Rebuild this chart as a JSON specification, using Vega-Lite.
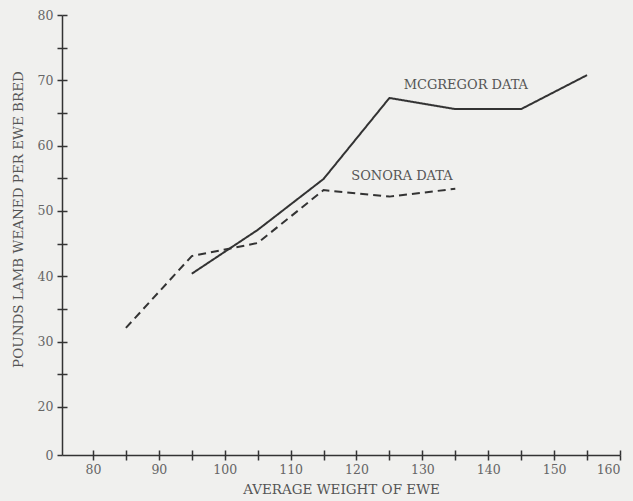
{
  "$schema": "https://vega.github.io/schema/vega-lite/v6.json",
  "width": 558,
  "height": 440,
  "autosize": "none",
  "padding": {"left": 62, "top": 15, "right": 13, "bottom": 46},
  "background": "#f0f0ee",
  "config": {
    "view": {"stroke": null},
    "font": "DejaVu Serif",
    "axis": {
      "labelFont": "DejaVu Serif",
      "titleFont": "DejaVu Serif",
      "labelColor": "#666",
      "titleColor": "#555",
      "labelFontSize": 12.5,
      "titleFontSize": 13.5,
      "titleFontWeight": "normal",
      "domainColor": "#333",
      "tickColor": "#333",
      "domainWidth": 1.5,
      "tickWidth": 1.5,
      "labelOverlap": false,
      "grid": false
    }
  },
  "datasets": {
    "lines": [
      {"series": "McGregor", "weight": 95, "pounds": 40.4},
      {"series": "McGregor", "weight": 105, "pounds": 47.1},
      {"series": "McGregor", "weight": 115, "pounds": 54.9},
      {"series": "McGregor", "weight": 125, "pounds": 67.3},
      {"series": "McGregor", "weight": 135, "pounds": 65.6},
      {"series": "McGregor", "weight": 145, "pounds": 65.6},
      {"series": "McGregor", "weight": 155, "pounds": 70.8},
      {"series": "Sonora", "weight": 85, "pounds": 32.1},
      {"series": "Sonora", "weight": 95, "pounds": 43.1},
      {"series": "Sonora", "weight": 105, "pounds": 45.1},
      {"series": "Sonora", "weight": 115, "pounds": 53.2},
      {"series": "Sonora", "weight": 125, "pounds": 52.2},
      {"series": "Sonora", "weight": 135, "pounds": 53.4}
    ],
    "labels": [
      {"text": "MCGREGOR DATA", "weight": 136.6, "pounds": 69.3},
      {"text": "SONORA DATA", "weight": 126.9, "pounds": 55.4}
    ]
  },
  "resolve": {"axis": {"x": "independent", "y": "independent"}},
  "layer": [
    {
      "data": {"name": "lines"},
      "mark": {"type": "line", "strokeWidth": 2, "color": "#333"},
      "encoding": {
        "x": {
          "field": "weight", "type": "quantitative",
          "scale": {"domain": [75.3, 160], "nice": false, "zero": false},
          "axis": {
            "orient": "bottom",
            "title": "AVERAGE WEIGHT OF EWE",
            "values": [80, 85, 90, 95, 100, 105, 110, 115, 120, 125, 130, 135, 140, 145, 150, 155, 160],
            "labelExpr": "datum.value % 10 == 0 ? datum.label : ''",
            "tickSize": 5,
            "labelPadding": 3,
            "titlePadding": 7
          }
        },
        "y": {
          "field": "pounds", "type": "quantitative",
          "scale": {"domain": [12.65, 80], "nice": false, "zero": false},
          "axis": {
            "orient": "left",
            "title": "POUNDS LAMB WEANED PER EWE BRED",
            "titleY": 204,
            "values": [12.65, 20, 25, 30, 35, 40, 45, 50, 55, 60, 65, 70, 75, 80],
            "labelExpr": "datum.value < 15 ? '0' : (datum.value % 10 == 0 ? datum.label : '')",
            "tickSize": 5,
            "labelPadding": 4,
            "titlePadding": 12
          }
        },
        "strokeDash": {
          "field": "series", "type": "nominal",
          "scale": {"domain": ["McGregor", "Sonora"], "range": [[1, 0], [8, 5]]},
          "legend": null
        }
      }
    },
    {
      "data": {"name": "labels"},
      "mark": {"type": "text", "fontSize": 13, "color": "#555", "font": "DejaVu Serif"},
      "encoding": {
        "x": {
          "field": "weight", "type": "quantitative",
          "axis": {
            "orient": "bottom", "offset": -5, "title": null, "labels": false, "domain": false,
            "tickSize": 5,
            "values": [80, 85, 90, 95, 100, 105, 110, 115, 120, 125, 130, 135, 140, 145, 150, 155, 160]
          }
        },
        "y": {
          "field": "pounds", "type": "quantitative",
          "axis": {
            "orient": "left", "offset": -5, "title": null, "labels": false, "domain": false,
            "tickSize": 5,
            "values": [20, 25, 30, 35, 40, 45, 50, 55, 60, 65, 70, 75, 80]
          }
        },
        "text": {"field": "text"}
      }
    }
  ]
}
